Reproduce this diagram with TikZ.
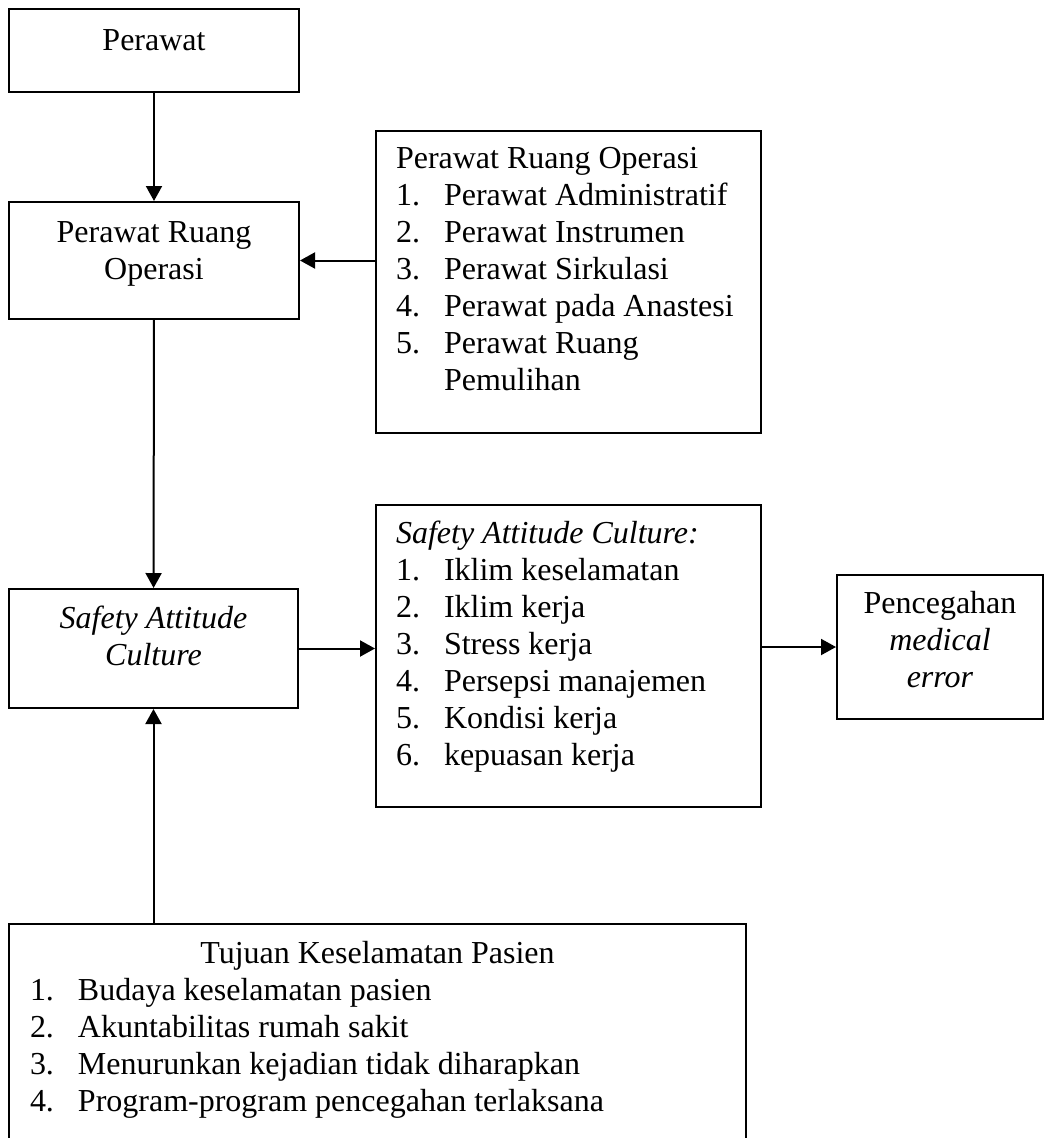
\documentclass[tikz,border=0pt]{standalone}
\usepackage{fontspec}
\setmainfont{Liberation Serif}
\usetikzlibrary{arrows.meta,positioning}

\tikzset{
    kotak/.style={draw, line width=2pt, inner sep=0pt, anchor=north west},
    panah/.style={line width=2pt, -{Triangle[length=15pt,width=16pt]}},
}
\newcommand{\isi}[4]{\parbox[c][#2pt][t]{#1pt}{\vspace*{#3pt}\strut#4}}
\newcommand{\butir}[2]{\makebox[48pt][l]{#1}#2}

\begin{document}
\begin{tikzpicture}[x=1pt,y=-1pt,font=\fontsize{32}{37}\selectfont]
    \useasboundingbox (0,0) rectangle (1045,1138);
    \clip (0,0) rectangle (1045,1138);

    \node[kotak] (perawat) at (8,8) {\isi{290}{83}{16}{\centering Perawat}};
    \node[kotak] (pro) at (8,201) {\isi{290}{117}{15}{\centering Perawat Ruang\\Operasi}};
    \node[kotak] (daftarpro) at (375,130) {\isi{385}{302}{12}{\leftskip=20pt Perawat Ruang Operasi\\
        \butir{1.}{Perawat Administratif}\\
        \butir{2.}{Perawat Instrumen}\\
        \butir{3.}{Perawat Sirkulasi}\\
        \butir{4.}{Perawat pada Anastesi}\\
        \butir{5.}{Perawat Ruang}\\
        \hspace*{48pt}Pemulihan}};
    \node[kotak] (sac) at (8,588) {\isi{289}{119}{14}{\centering\itshape Safety Attitude\\Culture}};
    \node[kotak] (daftarsac) at (375,504) {\isi{385}{302}{13}{\leftskip=20pt \textit{Safety Attitude Culture:}\\
        \butir{1.}{Iklim keselamatan}\\
        \butir{2.}{Iklim kerja}\\
        \butir{3.}{Stress kerja}\\
        \butir{4.}{Persepsi manajemen}\\
        \butir{5.}{Kondisi kerja}\\
        \butir{6.}{kepuasan kerja}}};
    \node[kotak] (cegah) at (836,574) {\isi{206}{144}{13}{\centering Pencegahan\\\textit{medical}\\\textit{error}}};
    \node[kotak] (tujuan) at (8,923) {\isi{737}{240}{14}{{\centering Tujuan Keselamatan Pasien\par}\leftskip=21pt
        \butir{1.}{Budaya keselamatan pasien}\\
        \butir{2.}{Akuntabilitas rumah sakit}\\
        \butir{3.}{Menurunkan kejadian tidak diharapkan}\\
        \butir{4.}{Program-program pencegahan terlaksana}}};

    \draw[panah] (perawat) -- (pro);
    \draw[panah] (daftarpro.west |- pro.east) -- (pro.east);
    \draw[panah] (pro) -- (sac);
    \draw[panah] (sac.east) -- (sac.east -| daftarsac.west);
    \draw[panah] (daftarsac.east |- cegah.west) -- (cegah.west);
    \draw[panah] (tujuan.north -| sac.south) -- (sac.south);
\end{tikzpicture}
\end{document}
